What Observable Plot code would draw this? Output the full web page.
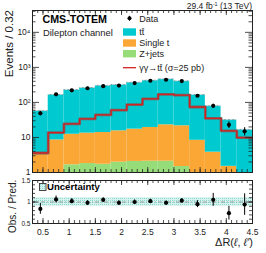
<!DOCTYPE html>
<html><head><meta charset="utf-8">
<script src="https://cdn.jsdelivr.net/npm/d3@7"></script>
<script src="https://cdn.jsdelivr.net/npm/@observablehq/plot@0.6"></script>
<style>
body{margin:0;background:#fff;}
#c{position:relative;width:266px;height:253px;overflow:hidden;font-family:"Liberation Sans",Arial,Helvetica,sans-serif;}
#c svg{position:absolute;left:0;}
</style></head><body><div id="c"></div>
<script>
// ---- data ----
const binCenters = [0.45, 0.75, 1.05, 1.35, 1.65, 1.95, 2.25, 2.55, 2.85, 3.15, 3.45, 3.75, 4.05, 4.35];
const binHalfWidth = 0.15;
const dataCounts = [49, 170, 222, 254, 291, 303, 356, 415, 444, 407, 155, 80, 23, 15];
const dataErrors = [7, 13, 15, 16, 17, 17, 19, 20, 21, 20, 12, 9, 5, 4];
const zJets = [0.3, 0.5, 1.66, 1.8, 1.72, 1.97, 2.07, 2.1, 2.1, 1.48, 0.6, 0.4, 0.3, 0.2];
const singleTop = [3.0, 8.0, 10.7, 11.5, 12.1, 13.5, 15.2, 17.2, 20.9, 20.1, 7.7, 3.4, 1.2, 0.6];
const ttbar = [53, 156, 213, 245, 284, 298, 349, 399, 432, 378, 154, 74, 30, 15.7];
const gammaGammaTT = [3.6, 13.8, 24.3, 34, 44, 60, 87, 126, 170, 162, 74, 35, 15.5, 9.9];
const predRelUnc = [0.03, 0.03, 0.03, 0.03, 0.03, 0.03, 0.03, 0.03, 0.03, 0.03, 0.03, 0.03, 0.03, 0.03];
const ratioValues = [0.84, 1.06, 1.02, 0.98, 1.05, 0.98, 1.0, 1.02, 0.98, 1.03, 0.95, 1.05, 0.74, 0.94];
const ratioErrors = [0.125, 0.08, 0.06, 0.05, 0.05, 0.05, 0.05, 0.045, 0.045, 0.05, 0.08, 0.15, 0.16, 0.25];
const ratioBand = [0.1, 0.1, 0.1, 0.1, 0.1, 0.1, 0.1, 0.1, 0.1, 0.1, 0.1, 0.1, 0.1, 0.1];
const yTickValues = [1, 10, 100, 1000, 10000];
const yTickLabels = ["1", "10", "10²", "10³", "10⁴"];
const xTickValues = [0.5, 1, 1.5, 2, 2.5, 3, 3.5, 4, 4.5];
const xTickLabels = ["0.5", "1", "1.5", "2", "2.5", "3", "3.5", "4", "4.5"];
const rTickValues = [0.5, 1, 1.5];
const rTickLabels = ["0.5", "1", "1.5"];

const FONT = '"Liberation Sans",Arial,Helvetica,sans-serif';
const colTT = "#00c9cf", colST = "#fba735", colZ = "#96dc78", colRed = "#d42222";

const rows = binCenters.map((c, i) => {
  const z = zJets[i], st = z + singleTop[i], tot = st + ttbar[i];
  return {x1: c - binHalfWidth, x2: c + binHalfWidth, c, z, st, tot,
    u1: tot * (1 - predRelUnc[i]), u2: tot * (1 + predRelUnc[i]),
    d: dataCounts[i], d1: dataCounts[i] - dataErrors[i], d2: dataCounts[i] + dataErrors[i],
    r: ratioValues[i], r1: ratioValues[i] - ratioErrors[i], r2: ratioValues[i] + ratioErrors[i],
    b1: 1 - ratioBand[i], b2: 1 + ratioBand[i]};
});
const redPts = binCenters.flatMap((c, i) => [{x: c - binHalfWidth, y: gammaGammaTT[i]}, {x: c + binHalfWidth, y: gammaGammaTT[i]}]);

const xMinor = d3.range(3, 46).map(v => v / 10);
const xMajor = xTickValues;
const yMinor = [1, 10, 100, 1000, 10000].flatMap(p => d3.range(2, 10).map(m => m * p)).filter(v => v < 42000);
const rMinor = d3.range(5, 16).map(v => v / 10);

const W = 266, mL = 32, mR = 14;
const FW = W - mL - mR;

function frameTicks(xmaj, xmin, ymaj, ymin, FH, xl, xs, yl, ys) {
  const s = {stroke: "#222", strokeWidth: 0.8};
  return [
    Plot.ruleX(xmin, {...s, insetTop: FH - xs}),
    Plot.ruleX(xmaj, {...s, insetTop: FH - xl}),
    Plot.ruleX(xmin, {...s, insetBottom: FH - xs}),
    Plot.ruleX(xmaj, {...s, insetBottom: FH - xl}),
    Plot.ruleY(ymin, {...s, insetRight: FW - ys}),
    Plot.ruleY(ymaj, {...s, insetRight: FW - yl}),
    Plot.ruleY(ymin, {...s, insetLeft: FW - ys}),
    Plot.ruleY(ymaj, {...s, insetLeft: FW - yl}),
  ];
}

// ---- top panel ----
const H1 = 176, mT1 = 10, mB1 = 4, FH1 = H1 - mT1 - mB1;
const topPlot = Plot.plot({
  width: W, height: H1, marginLeft: mL, marginRight: mR, marginTop: mT1, marginBottom: mB1,
  style: {fontFamily: FONT, background: "transparent", overflow: "visible"},
  x: {domain: [0.3, 4.5], axis: null},
  y: {type: "log", domain: [1, 42000], axis: null},
  marks: [
    Plot.rect(rows, {x1: "x1", x2: "x2", y1: () => 1e-3, y2: "z", fill: colZ, clip: true}),
    Plot.rect(rows, {x1: "x1", x2: "x2", y1: "z", y2: "st", fill: colST, clip: true}),
    Plot.rect(rows, {x1: "x1", x2: "x2", y1: "st", y2: "tot", fill: colTT, clip: true}),
    Plot.rect(rows, {x1: "x1", x2: "x2", y1: "u1", y2: "u2", fill: "url(#hatchTop)", clip: true}),
    Plot.line(redPts, {x: "x", y: "y", stroke: "#6b6b6b", strokeWidth: 2.8, clip: true}),
    Plot.line(redPts, {x: "x", y: "y", stroke: colRed, strokeWidth: 1.3, clip: true}),
    Plot.ruleX(rows, {x: "c", y1: "d1", y2: "d2", stroke: "#000", strokeWidth: 1}),
    Plot.dot(rows, {x: "c", y: "d", r: 2.1, fill: "#000"}),
    ...frameTicks(xMajor, xMinor, yTickValues, yMinor, FH1, 5, 3, 7, 3.5),
    Plot.frame({stroke: "#222", strokeWidth: 1}),
    Plot.text(yTickValues, {y: d => d, text: (d, i) => yTickLabels[i], frameAnchor: "left", textAnchor: "end", dx: -2, fontSize: 8.5, fill: "#222"})
  ]
});
topPlot.style.top = "0px";
d3.select(topPlot).insert("defs", ":first-child").html(
  '<pattern id="hatchTop" width="3" height="3" patternUnits="userSpaceOnUse" patternTransform="rotate(45)">' +
  '<rect width="3" height="3" fill="#d8d8d8" fill-opacity="0.6"/><line x1="0" y1="0" x2="0" y2="3" stroke="#555" stroke-width="1.2"/></pattern>');

// ---- ratio panel ----
const H2 = 77, mT2 = 4, mB2 = 30, FH2 = H2 - mT2 - mB2;
const botPlot = Plot.plot({
  width: W, height: H2, marginLeft: mL, marginRight: mR, marginTop: mT2, marginBottom: mB2,
  style: {fontFamily: FONT, background: "transparent", overflow: "visible"},
  x: {domain: [0.3, 4.5], axis: null},
  y: {domain: [0.5, 1.5], axis: null},
  marks: [
    Plot.rect(rows, {x1: "x1", x2: "x2", y1: "b1", y2: "b2", fill: "url(#dotBand)"}),
    Plot.ruleY([1], {stroke: "#8a8a8a", strokeWidth: 0.8, strokeDasharray: "4,2,1,2"}),
    Plot.ruleX(rows, {x: "c", y1: "r1", y2: "r2", stroke: "#000", strokeWidth: 1}),
    Plot.dot(rows, {x: "c", y: "r", r: 2.1, fill: "#000"}),
    ...frameTicks(xMajor, xMinor, rTickValues, rMinor, FH2, 5, 3, 6, 3),
    Plot.frame({stroke: "#222", strokeWidth: 1}),
    Plot.text(rTickValues, {y: d => d, text: (d, i) => rTickLabels[i], frameAnchor: "left", textAnchor: "end", dx: -2, fontSize: 6.5, fill: "#222"}),
    Plot.text(xTickValues, {x: d => d, text: (d, i) => xTickLabels[i], frameAnchor: "bottom", lineAnchor: "top", dy: 5, fontSize: 8.5, fill: "#222"})
  ]
});
botPlot.style.top = "176px";
d3.select(botPlot).insert("defs", ":first-child").html(
  '<pattern id="dotBand" width="2" height="2" patternUnits="userSpaceOnUse">' +
  '<rect width="2" height="2" fill="#d4f2ee"/><rect width="1" height="1" fill="#8fd6cc"/></pattern>');

const cont = document.getElementById("c");
cont.appendChild(topPlot);
cont.appendChild(botPlot);

// ---- annotations (titles, legends) ----
const ov = d3.select(cont).append("svg").attr("width", W).attr("height", 253).style("top", "0px")
  .style("font-family", FONT).style("pointer-events", "none");
const lum = ov.append("text").attr("x", 252).attr("y", 8.5).attr("text-anchor", "end").attr("font-size", 8.5).attr("fill", "#222");
lum.append("tspan").text("29.4 fb");
lum.append("tspan").attr("font-size", 5.5).attr("dy", -3).text("-1");
lum.append("tspan").attr("dy", 3).text(" (13 TeV)");
ov.append("text").attr("x", 42.5).attr("y", 23.3).attr("font-size", 10.7).attr("font-weight", "bold").attr("fill", "#000").text("CMS-TOTEM");
ov.append("text").attr("x", 43).attr("y", 35.5).attr("font-size", 9.4).attr("fill", "#222").text("Dilepton channel");

const lx = 123, lw = 13, tx = 139.3;
ov.append("line").attr("x1", lx + lw / 2).attr("x2", lx + lw / 2).attr("y1", 15.8).attr("y2", 20.8).attr("stroke", "#000");
ov.append("circle").attr("cx", lx + lw / 2).attr("cy", 18.3).attr("r", 2).attr("fill", "#000");
ov.append("text").attr("x", tx).attr("y", 21.6).attr("font-size", 9).attr("fill", "#222").text("Data");
const boxes = [[32, colTT, "tt\u0304"], [43, colST, "Single t"], [53.7, colZ, "Z+jets"]];
boxes.forEach(([cy, col, lab]) => {
  ov.append("rect").attr("x", lx).attr("y", cy - 3.7).attr("width", lw).attr("height", 7.4).attr("fill", col);
  ov.append("text").attr("x", tx).attr("y", cy + 3.3).attr("font-size", 9).attr("fill", "#222").text(lab);
});
ov.append("line").attr("x1", lx).attr("x2", lx + lw).attr("y1", 67.7).attr("y2", 67.7).attr("stroke", colRed).attr("stroke-width", 1.3);
ov.append("text").attr("x", tx).attr("y", 71).attr("font-size", 9).attr("fill", "#222").text("\u03b3\u03b3\u2192tt\u0304 (\u03c3=25 pb)");

ov.append("rect").attr("x", 39.5).attr("y", 183.5).attr("width", 6.5).attr("height", 7).attr("fill", "url(#dotBand)").attr("stroke", "#333").attr("stroke-width", 0.9);
ov.append("text").attr("x", 47).attr("y", 190.3).attr("font-size", 9.6).attr("font-weight", "bold").attr("fill", "#000").text("Uncertainty");

ov.append("text").attr("transform", "translate(13,10) rotate(-90)").attr("text-anchor", "end").attr("font-size", 11.5).attr("fill", "#222").text("Events / 0.32");
ov.append("text").attr("transform", "translate(16,233) rotate(-90)").attr("text-anchor", "start").attr("font-size", 10).attr("fill", "#222").text("Obs. / Pred.");
const ax = ov.append("text").attr("x", 253).attr("y", 245.5).attr("text-anchor", "end").attr("font-size", 11).attr("fill", "#222");
ax.append("tspan").text("\u0394R(");
ax.append("tspan").attr("font-style", "italic").text("\u2113");
ax.append("tspan").text(", ");
ax.append("tspan").attr("font-style", "italic").text("\u2113\u2032");
ax.append("tspan").text(")");
</script></body></html>
